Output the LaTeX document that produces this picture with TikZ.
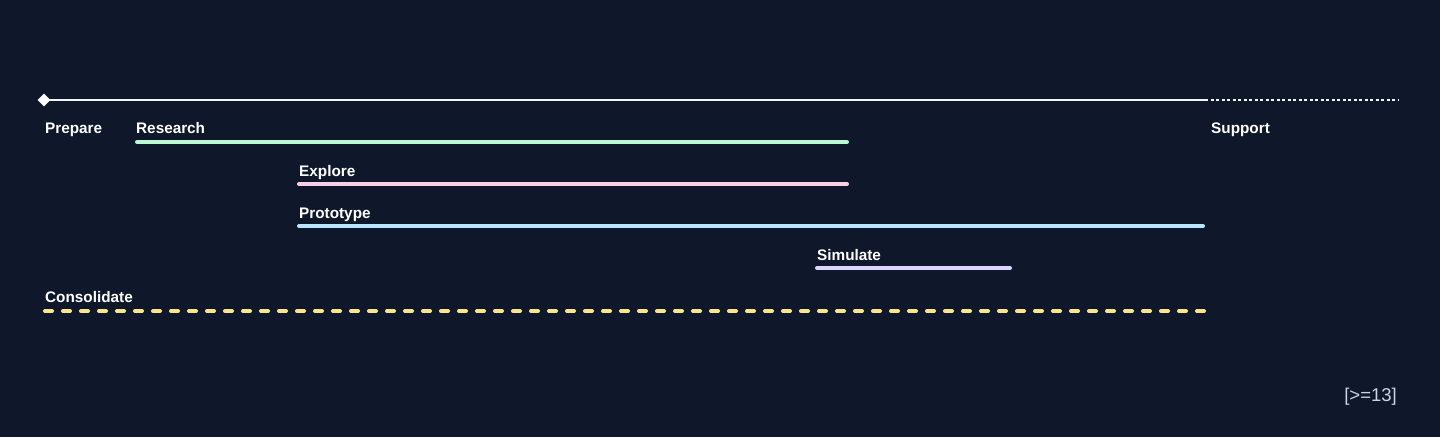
\documentclass[tikz,border=0pt]{standalone}
\usepackage{fontspec}
\setmainfont{Liberation Sans}
\definecolor{bg}{HTML}{0F172A}
\definecolor{axis}{HTML}{F1F5F9}
\definecolor{cresearch}{HTML}{BBF7D0}
\definecolor{cexplore}{HTML}{FBCFE8}
\definecolor{cproto}{HTML}{BAE6FD}
\definecolor{csim}{HTML}{DDD6FE}
\definecolor{ccons}{HTML}{FDE68A}
\definecolor{cnote}{HTML}{CBD5E1}
\begin{document}
\begin{tikzpicture}[x=1pt,y=-1pt,
  lbl/.style={anchor=base west,inner sep=0pt,text=white,font=\fontsize{15.3}{17}\selectfont\bfseries},
  bar/.style={line width=4pt,line cap=round},
  notelbl/.style={anchor=base east,inner sep=0pt,text=cnote,font=\fontsize{18.5}{20}\selectfont}]
\fill[bg] (0,0) rectangle (1440,437);
\useasboundingbox (0,0) rectangle (1440,437);
% axis
\coordinate (a0) at (44,100);
\coordinate (a1) at (1205,100);
\coordinate (a2) at (1398,100);
\draw[axis,line width=1.5pt] (a0) -- (a1);
\draw[axis,line width=1.5pt,dash pattern=on 3pt off 2.5pt] (a1) -- (a2);
\node[fill=white,draw=none,minimum size=9pt,inner sep=0pt,rotate=45] (dia) at (a0) {};
% labels
\node[lbl] (prep) at (45,133) {Prepare};
\node[lbl] (res) at (136,133) {Research};
\node[lbl] (sup) at (1211,133) {Support};
\node[lbl] (exp) at (299,176) {Explore};
\node[lbl] (pro) at (299,218) {Prototype};
\node[lbl] (sim) at (817,260) {Simulate};
\node[lbl] (con) at (45,302) {Consolidate};
% bars
\coordinate (r0) at (137,142); \coordinate (r1) at (847,142);
\coordinate (e0) at (299,184); \coordinate (e1) at (847,184);
\coordinate (p0) at (299,226); \coordinate (p1) at (1203,226);
\coordinate (s0) at (817,268); \coordinate (s1) at (1010,268);
\coordinate (c0) at (45,311); \coordinate (c1) at (1204,311);
\draw[bar,cresearch] (r0) -- (r1);
\draw[bar,cexplore] (e0) -- (e1);
\draw[bar,cproto] (p0) -- (p1);
\draw[bar,csim] (s0) -- (s1);
\draw[line width=4pt,ccons,line cap=round,dash pattern=on 7pt off 11pt] (c0) -- (c1);
% note
\node[notelbl] (note) at (1397,401) {[>=13]};
\end{tikzpicture}
\end{document}
